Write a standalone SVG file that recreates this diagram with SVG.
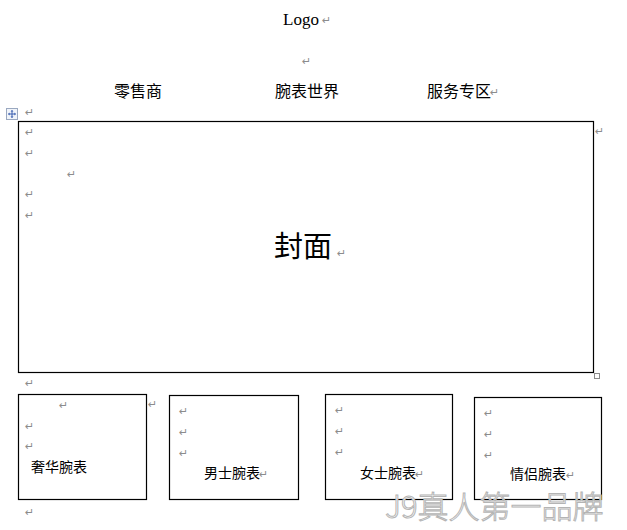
<svg xmlns="http://www.w3.org/2000/svg" width="627" height="530" viewBox="0 0 627 530">
<style>
.t{font-family:"Noto Sans CJK SC","Liberation Sans",sans-serif;fill:#000}
.r{font-family:"DejaVu Sans",sans-serif;font-size:11px;fill:#8c8c8c}
.box{fill:none;stroke:#000;stroke-width:1.2}
.wm{font-family:"Noto Sans CJK SC","Liberation Sans",sans-serif;font-size:31px;font-weight:300;fill:#ffffff;stroke:#b4b4b4;stroke-width:1}
</style>
<rect width="627" height="530" fill="#fff"/>
<g id="header">
<text x="283" y="25" style="font-family:'Liberation Serif',serif;font-size:17px">Logo</text>
<text class="r" x="322" y="24">↵</text>
<text class="r" x="302" y="65">↵</text>
</g>
<g id="nav">
<text class="t" x="114" y="97" font-size="16">零售商</text>
<text class="t" x="275" y="97" font-size="16">腕表世界</text>
<text class="t" x="427" y="97" font-size="16">服务专区</text>
<text class="r" x="490" y="96">↵</text>
</g>
<g id="tablehandle">
<rect x="6.5" y="108.5" width="11" height="11" fill="#f0f4fa" stroke="#9aa8c0" stroke-width="1"/>
<path d="M12 110.5V117.5M8.5 114H15.5" stroke="#3b5fb0" stroke-width="1"/>
<path d="M12 110l-1.5 1.6h3zM12 118l-1.5-1.6h3zM8 114l1.6-1.5v3zM16 114l-1.6-1.5v3z" fill="#3b5fb0"/>
<text class="r" x="25" y="116">↵</text>
</g>
<g id="cover">
<rect class="box" x="18.5" y="121.5" width="575" height="251"/>
<text class="r" x="25" y="136">↵</text>
<text class="r" x="25" y="157">↵</text>
<text class="r" x="67" y="178">↵</text>
<text class="r" x="25" y="198">↵</text>
<text class="r" x="25" y="219">↵</text>
<text class="t" x="274" y="257" font-size="29">封面</text>
<text class="r" x="337" y="257">↵</text>
<text class="r" x="595" y="135">↵</text>
<rect x="594.5" y="373.5" width="5" height="5" fill="#fff" stroke="#8c8c8c" stroke-width="1"/>
<text class="r" x="25" y="387">↵</text>
</g>
<g id="luxury">
<rect class="box" x="18.5" y="394.5" width="128" height="105"/>
<text class="r" x="59" y="409">↵</text>
<text class="r" x="148" y="408">↵</text>
<text class="r" x="25" y="430">↵</text>
<text class="r" x="25" y="450">↵</text>
<text class="t" x="31" y="472" font-size="14">奢华腕表</text>
</g>
<g id="men">
<rect class="box" x="169.5" y="395.5" width="129" height="104"/>
<text class="r" x="179" y="415">↵</text>
<text class="r" x="179" y="436">↵</text>
<text class="r" x="179" y="457">↵</text>
<text class="t" x="204" y="478" font-size="14">男士腕表</text>
<text class="r" x="259" y="478">↵</text>
</g>
<g id="women">
<rect class="box" x="325.5" y="394.5" width="127" height="105"/>
<text class="r" x="335" y="414">↵</text>
<text class="r" x="335" y="435">↵</text>
<text class="r" x="335" y="456">↵</text>
<text class="t" x="360" y="478" font-size="14">女士腕表</text>
<text class="r" x="415" y="478">↵</text>
</g>
<g id="couple">
<rect class="box" x="474.5" y="397.5" width="127" height="102"/>
<text class="r" x="484" y="417">↵</text>
<text class="r" x="484" y="438">↵</text>
<text class="r" x="484" y="459">↵</text>
<text class="t" x="510" y="479" font-size="14">情侣腕表</text>
<text class="r" x="566" y="479">↵</text>
</g>
<text class="r" x="25" y="516">↵</text>
<text class="wm" x="385" y="518">J9真人第一品牌</text>
</svg>
